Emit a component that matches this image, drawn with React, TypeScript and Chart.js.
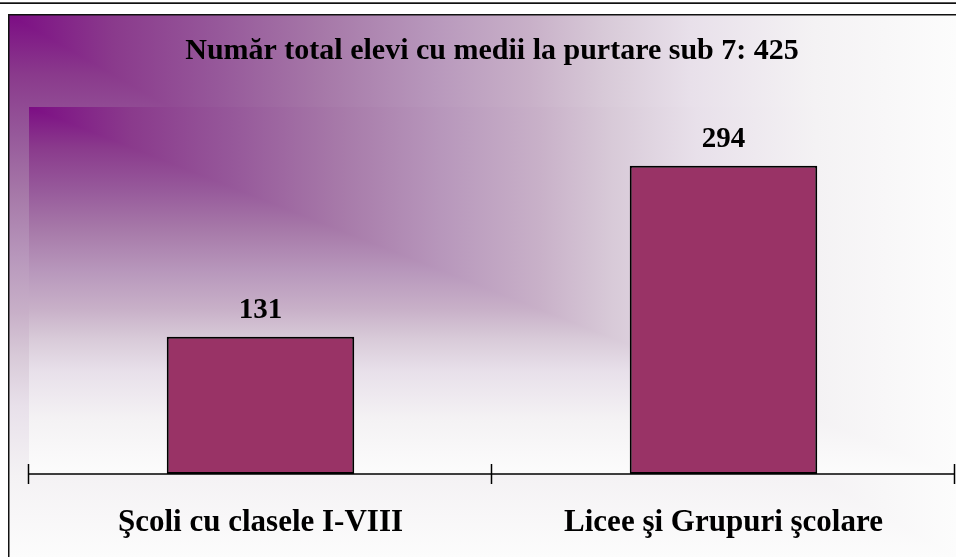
import React, { useEffect, useRef } from "react";
import { Chart, registerables } from "chart.js";

Chart.register(...registerables);

const categories = ["Şcoli cu clasele I-VIII", "Licee şi Grupuri şcolare"];
const values = [131, 294];
const titleText = "Număr total elevi cu medii la purtare sub 7: 425";
const yMin = 0;
const yMax = 350;

const FONT = "'Liberation Serif', 'Times New Roman', serif";
const BAR_COLOR = "#993366";

const gradStops: [number, string][] = [
  [0, "#7c0d84"],
  [0.11, "#8a3a8c"],
  [0.22, "#96589a"],
  [0.33, "#a678a8"],
  [0.45, "#b898bc"],
  [0.55, "#c8b0c8"],
  [0.63, "#d8cad8"],
  [0.72, "#e8e0ea"],
  [0.85, "#f4f2f4"],
  [1, "#fcfcfc"],
];

function cornerGradient(ctx: CanvasRenderingContext2D, ax: number, ay: number, aw: number, ah: number) {
  const x0 = Math.round(ax);
  const y0 = Math.round(ay);
  const w = Math.round(ax + aw) - x0;
  const h = Math.round(ay + ah) - y0;
  ctx.save();
  const gv = ctx.createLinearGradient(0, y0, 0, y0 + h);
  gradStops.forEach(([o, c]) => gv.addColorStop(o, c));
  ctx.fillStyle = gv;
  ctx.fillRect(x0, y0, w, h);
  ctx.beginPath();
  ctx.moveTo(x0, y0);
  ctx.lineTo(x0 + w, y0);
  ctx.lineTo(x0 + w, y0 + h);
  ctx.closePath();
  ctx.clip();
  const gh = ctx.createLinearGradient(x0, 0, x0 + w, 0);
  gradStops.forEach(([o, c]) => gh.addColorStop(o, c));
  ctx.fillStyle = gh;
  ctx.fillRect(x0, y0, w, h);
  ctx.restore();
}

const backgroundPlugin = {
  id: "bgPlugin",
  beforeDraw(chart: any) {
    const { ctx, width, height, chartArea } = chart;
    ctx.save();
    ctx.fillStyle = "#ffffff";
    ctx.fillRect(0, 0, width, height);
    ctx.fillStyle = "#555555";
    ctx.fillRect(0, 2, width, 1);
    ctx.fillStyle = "#111111";
    ctx.fillRect(0, 3, width, 1);
    cornerGradient(ctx, 9, 15, width - 9, height - 15);
    ctx.fillStyle = "#111111";
    ctx.fillRect(8, 14, width - 8, 1.5);
    ctx.fillRect(8, 14, 1.5, height - 14);
    cornerGradient(ctx, chartArea.left, chartArea.top, chartArea.right - chartArea.left, chartArea.bottom - chartArea.top);
    ctx.restore();
  },
  afterDatasetsDraw(chart: any) {
    const { ctx, chartArea } = chart;
    const n = categories.length;
    const left = chartArea.left;
    const right = chartArea.right;
    const bottom = Math.round(chartArea.bottom);
    ctx.save();
    ctx.strokeStyle = "#000000";
    ctx.lineWidth = 1.5;
    ctx.beginPath();
    ctx.moveTo(left, bottom);
    ctx.lineTo(right, bottom);
    ctx.stroke();
    for (let i = 0; i <= n; i++) {
      const x = Math.round(left + (i * (right - left)) / n) - 0.5;
      ctx.beginPath();
      ctx.moveTo(x, bottom - 10);
      ctx.lineTo(x, bottom + 10);
      ctx.stroke();
    }
    const meta = chart.getDatasetMeta(0);
    ctx.fillStyle = "#000000";
    ctx.font = `bold 29px ${FONT}`;
    ctx.textAlign = "center";
    ctx.textBaseline = "alphabetic";
    meta.data.forEach((el: any, i: number) => {
      ctx.fillText(String(values[i]), el.x, el.y - 19);
    });
    ctx.restore();
  },
};

export default function App() {
  const ref = useRef<HTMLCanvasElement | null>(null);
  useEffect(() => {
    if (!ref.current) return;
    const chart = new Chart(ref.current, {
      type: "bar",
      data: {
        labels: categories,
        datasets: [
          {
            data: values,
            backgroundColor: BAR_COLOR,
            borderColor: "#000000",
            borderWidth: 2,
            borderSkipped: false,
            barPercentage: 0.405,
            categoryPercentage: 1.0,
          },
        ],
      },
      options: {
        responsive: false,
        animation: false,
        devicePixelRatio: 1,
        layout: { padding: { left: 29, right: 1, top: 0, bottom: 18 } },
        plugins: {
          legend: { display: false },
          tooltip: { enabled: false },
          title: {
            display: true,
            text: titleText,
            color: "#000000",
            font: { family: FONT, size: 30, weight: "bold" },
            padding: { top: 33, bottom: 38 },
          },
        },
        scales: {
          x: {
            grid: { display: false, drawTicks: false, tickLength: 0 },
            border: { display: false },
            ticks: {
              color: "#000000",
              font: { family: FONT, size: 31, weight: "bold" },
              padding: 30,
              maxRotation: 0,
              autoSkip: false,
            },
            afterFit: (scale: any) => {
              scale.height = 65;
            },
          },
          y: {
            display: false,
            min: yMin,
            max: yMax,
          },
        },
      },
      plugins: [backgroundPlugin],
    });
    return () => chart.destroy();
  }, []);
  return (
    <div style={{ position: "absolute", left: 0, top: 0, width: 956, height: 557 }}>
      <canvas ref={ref} width={956} height={557} style={{ display: "block" }} />
    </div>
  );
}
